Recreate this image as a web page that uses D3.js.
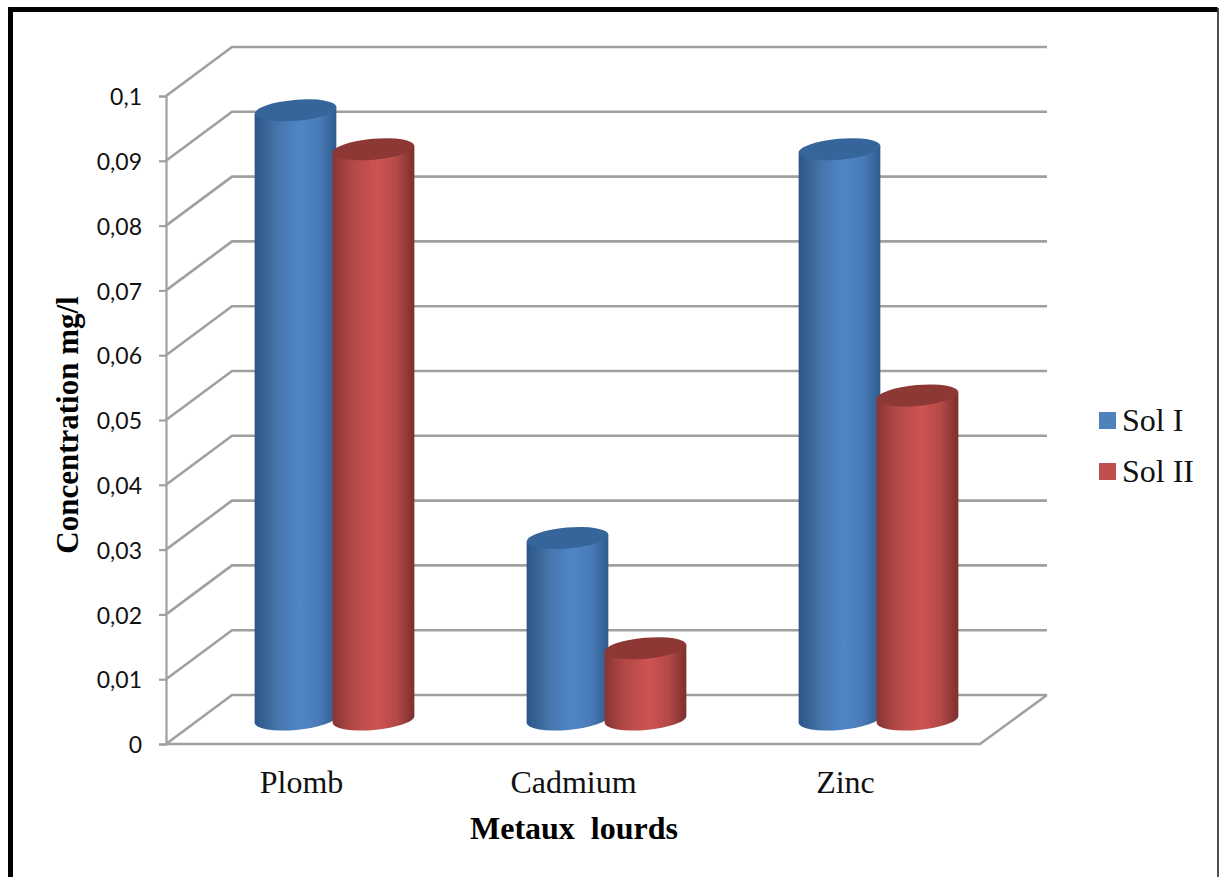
<!DOCTYPE html>
<html><head><meta charset="utf-8">
<script src="https://cdn.jsdelivr.net/npm/d3@7/dist/d3.min.js"></script>
<style>html,body{margin:0;padding:0;background:#fff}svg{display:block}</style></head>
<body><svg id="c" width="1219" height="877"></svg>
<script>
const categories = ["Plomb","Cadmium","Zinc"];
const seriesNames = ["Sol I","Sol II"];
const solI = [0.094,0.028,0.088];
const solII = [0.088,0.011,0.05];
const yTicks = [0,0.01,0.02,0.03,0.04,0.05,0.06,0.07,0.08,0.09,0.1];
const tickLabels = ["0","0,01","0,02","0,03","0,04","0,05","0,06","0,07","0,08","0,09","0,1"];
const seriesColors = ["#4f81bd","#c0504d"];
const gradStops = [
 ["#2b5585","#4472a9","#5086c8","#4a7cb8","#2f5b8e"],
 ["#883432","#b44947","#cd5451","#b54a48","#7b2f2d"]];
const topColors = ["#36659a","#8e3836"];

const svg = d3.select("#c");
const depthX = 66, depthY = 49;
const y = d3.scaleLinear().domain([0,0.1]).range([744,96]);
const frontX = 166, frontEnd = 980;
const xBack = d3.scaleBand().domain(categories).range([198.5,1014.5]);
const xInner = d3.scaleBand().domain(seriesNames).range([-78,78]);
const baseY = 719.5, rx = 41, ry = 10.5, rot = -5;
const gridCol = "#a0a0a0";

// frame
svg.append("path").attr("d","M10.5,877V9.5H1217.5").attr("fill","none").attr("stroke","#000").attr("stroke-width",5);
svg.append("line").attr("x1",1218).attr("x2",1218).attr("y1",8).attr("y2",877).attr("stroke","#222").attr("stroke-width",1.6);

const defs = svg.append("defs");
defs.append("filter").attr("id","soft").attr("x","-5%").attr("y","-5%").attr("width","110%").attr("height","110%")
  .append("feGaussianBlur").attr("stdDeviation",0.5);
seriesNames.forEach((s,i)=>{
  const g = defs.append("linearGradient").attr("id","g"+i);
  gradStops[i].forEach((c,j)=>g.append("stop").attr("offset",[0,0.25,0.55,0.78,1][j]).attr("stop-color",c));
});

// walls and grid
const grid = svg.append("g").attr("fill","none").attr("stroke",gridCol).attr("stroke-width",2.6).attr("filter","url(#soft)");
grid.selectAll("path.g").data(yTicks).join("path").attr("class","g")
  .attr("d",d=>`M${frontX},${y(d)}L${frontX+depthX},${y(d)-depthY}L${frontEnd+depthX+1},${y(d)-depthY}`);
grid.append("path").attr("d",`M${frontX},${y(0)}L${frontEnd},${y(0)}L${frontEnd+depthX+1},${y(0)-depthY}`);

// y axis
const axis = svg.append("g").attr("transform",`translate(${frontX},0)`)
  .call(d3.axisLeft(y).tickValues(yTicks).tickFormat((d,i)=>tickLabels[i]).tickSize(7).tickPadding(17));
axis.selectAll("path,line").attr("stroke",gridCol).attr("stroke-width",2.2);
axis.selectAll("text").attr("font-family","Lato, 'Open Sans', sans-serif").attr("font-size",23).attr("fill","#111").attr("dy","0.38em");

// cylinders
const rad = rot*Math.PI/180;
const dx = rx*Math.cos(rad), dy = rx*Math.sin(rad);
function cyl(g,cx,topY,i){
  g.append("path").attr("fill",`url(#g${i})`).attr("d",
    `M${cx-dx},${topY-dy}L${cx-dx},${baseY-dy}A${rx},${ry} ${rot} 0 0 ${cx+dx},${baseY+dy}L${cx+dx},${topY+dy}Z`);
  g.append("ellipse").attr("cx",cx).attr("cy",topY).attr("rx",rx).attr("ry",ry)
    .attr("transform",`rotate(${rot} ${cx} ${topY})`).attr("fill",topColors[i]);
}
const barH = v => y(0)-y(v);
const bars = svg.append("g").attr("filter","url(#soft)");
categories.forEach((c,k)=>{
  [solI,solII].forEach((arr,i)=>{
    const cx = xBack(c)+xBack.bandwidth()/2+xInner(seriesNames[i])+xInner.bandwidth()/2;
    cyl(bars,cx,baseY-barH(arr[k]),i);
  });
});

// category labels
const serif = "'Liberation Serif','Times New Roman',serif";
svg.append("g").selectAll("text").data(categories).join("text")
  .attr("x",d=>xBack(d)+xBack.bandwidth()/2-33).attr("y",793)
  .attr("text-anchor","middle").attr("font-family",serif).attr("font-size",32).attr("fill","#111").text(d=>d);
svg.append("text").attr("x",574).attr("y",839).attr("text-anchor","middle").attr("font-family",serif)
  .attr("font-weight","bold").attr("font-size",32).attr("xml:space","preserve").style("white-space","pre").attr("fill","#000").text("Metaux  lourds");
svg.append("text").attr("transform","translate(78,425) rotate(-90)").attr("text-anchor","middle").attr("font-family",serif)
  .attr("font-weight","bold").attr("font-size",31).attr("fill","#000").text("Concentration mg/l");

// legend
const ly = d3.scalePoint().domain(seriesNames).range([421,472]);
const leg = svg.append("g");
leg.selectAll("rect").data(seriesNames).join("rect").attr("x",1099).attr("y",d=>ly(d)-9).attr("width",17).attr("height",17)
  .attr("fill",(d,i)=>seriesColors[i]);
leg.selectAll("text").data(seriesNames).join("text").attr("x",1122).attr("y",d=>ly(d)+10)
  .attr("font-family",serif).attr("font-size",32).attr("fill","#111").text(d=>d);
</script></body></html>
